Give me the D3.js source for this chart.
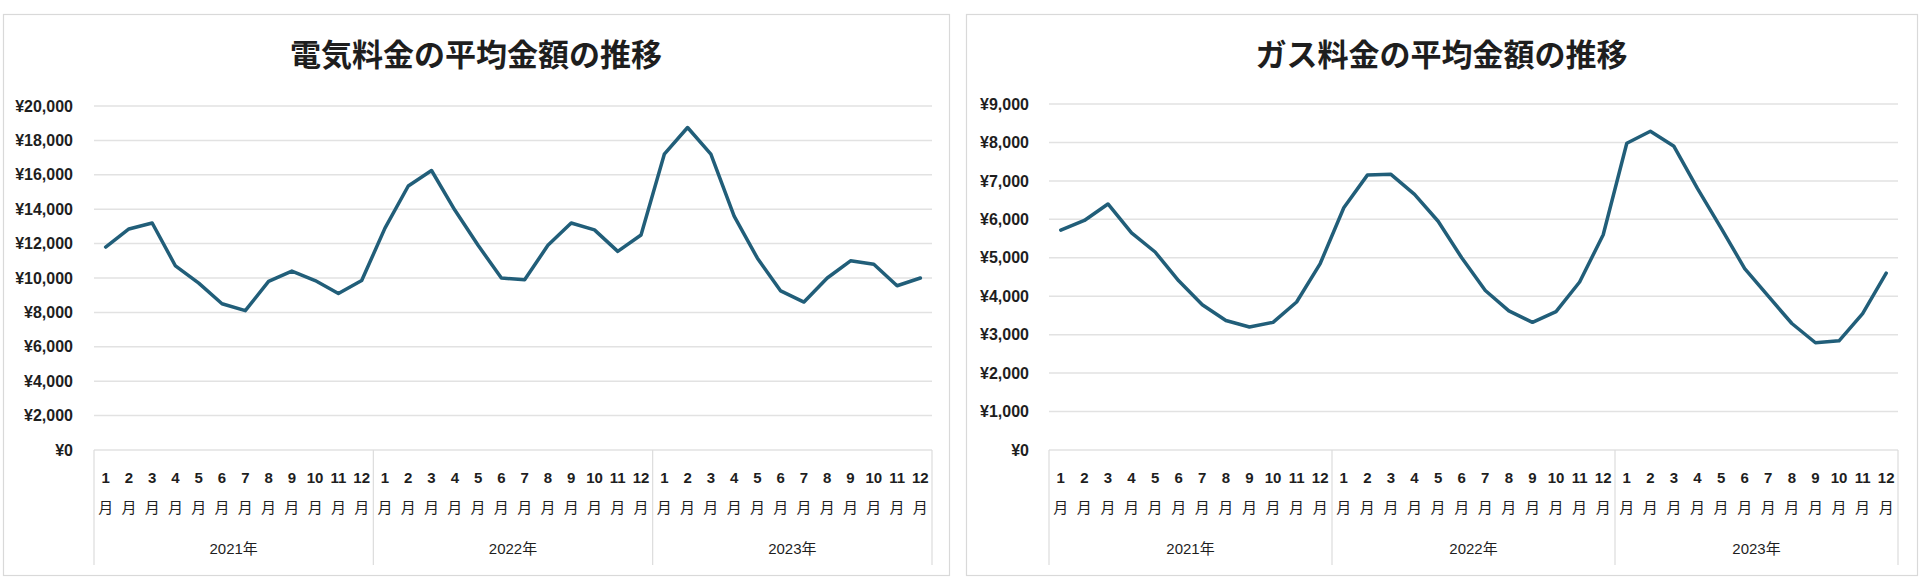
<html>
<meta charset="utf-8" />
<head>
<title>電気・ガス料金</title>
<style>
body { margin: 0; background: #fff; }
svg { display: block; }
svg text {
  font-family: "Liberation Sans", "Noto Sans CJK JP", sans-serif;
  fill: #1e1e1e;
}
.title { font-family: "Noto Sans CJK JP", sans-serif; font-weight: bold; font-size: 31px; text-anchor: middle; }
.ylab text { font-size: 16px; font-weight: bold; }
.mon { font-size: 15px; font-weight: bold; text-anchor: middle; }
.tsuki { font-family: "Noto Sans CJK JP", sans-serif; font-size: 15px; text-anchor: middle; }
.year { font-size: 15px; text-anchor: middle; }
</style>
<script src="https://d3js.org/d3.v7.min.js" charset="utf-8"></script>
</head>
<body>
<svg class="chart"></svg>
<script>
var years = ["2021年", "2022年", "2023年"];
var months = ["1", "2", "3", "4", "5", "6", "7", "8", "9", "10", "11", "12"];

// 電気料金 (円)
var electricity = [
  11800, 12850, 13200, 10700, 9700, 8500, 8100, 9800, 10400, 9850, 9100, 9850,
  12900, 15350, 16250, 13950, 11900, 10000, 9900, 11900, 13200, 12800, 11550, 12500,
  17200, 18750, 17200, 13600, 11150, 9250, 8600, 10000, 11000, 10800, 9550, 10000
];
// ガス料金 (円)
var gas = [
  5720, 5970, 6400, 5650, 5150, 4400, 3780, 3370, 3200, 3320, 3850, 4850,
  6300, 7150, 7170, 6650, 5950, 5000, 4150, 3620, 3320, 3600, 4370, 5600,
  7980, 8290, 7900, 6800, 5770, 4720, 4000, 3290, 2790, 2840, 3550, 4600
];
var elecTicks = [0, 2000, 4000, 6000, 8000, 10000, 12000, 14000, 16000, 18000, 20000];
var gasTicks = [0, 1000, 2000, 3000, 4000, 5000, 6000, 7000, 8000, 9000];

var chartWidth = 1920;
var chartHeight = 582;

var svg = d3.select(".chart")
  .attr("width", chartWidth)
  .attr("height", chartHeight);

var cats = [];
years.forEach(function(y) {
  months.forEach(function(m) { cats.push({ year: y, month: m, key: y + m }); });
});

function makeChart(cfg) {
  var g = svg.append("g");

  g.append("rect")
    .attr("x", cfg.card[0] + 0.5).attr("y", cfg.card[1] + 0.5)
    .attr("width", cfg.card[2] - cfg.card[0]).attr("height", cfg.card[3] - cfg.card[1])
    .attr("fill", "#fff").attr("stroke", "#d9d9d9").attr("stroke-width", 1.2);

  g.append("text").attr("class", "title")
    .attr("x", (cfg.card[0] + cfg.card[2]) / 2).attr("y", 66)
    .text(cfg.title);

  var x = d3.scaleBand()
    .domain(cats.map(function(d) { return d.key; }))
    .range([cfg.left, cfg.right]);

  var y = d3.scaleLinear()
    .domain([0, d3.max(cfg.ticks)])
    .range([cfg.bottom, cfg.top]);

  // gridlines
  g.append("g").selectAll("line")
    .data(cfg.ticks)
    .enter().append("line")
    .attr("x1", cfg.left).attr("x2", cfg.right)
    .attr("y1", function(d) { return y(d); })
    .attr("y2", function(d) { return y(d); })
    .attr("stroke", "#e2e2e2").attr("stroke-width", 1.5);

  // y axis labels
  var ya = g.append("g").attr("class", "ylab")
    .attr("transform", "translate(" + cfg.labelX + ",0)")
    .call(d3.axisLeft(y).tickValues(cfg.ticks).tickSize(0).tickPadding(0)
      .tickFormat(function(d) { return "¥" + d3.format(",")(d); }));
  ya.select(".domain").remove();
  ya.selectAll("text").attr("fill", "#1e1e1e");

  // category axis (months + years)
  var bounds = [0, 12, 24, 36];
  g.append("g").selectAll("line")
    .data(bounds)
    .enter().append("line")
    .attr("x1", function(d) { return cfg.left + d * x.bandwidth(); })
    .attr("x2", function(d) { return cfg.left + d * x.bandwidth(); })
    .attr("y1", cfg.bottom).attr("y2", cfg.bottom + 115)
    .attr("stroke", "#dcdcdc").attr("stroke-width", 1.2);

  g.append("g").selectAll("text")
    .data(cats)
    .enter().append("text").attr("class", "mon")
    .attr("x", function(d) { return x(d.key) + x.bandwidth() / 2; })
    .attr("y", cfg.bottom + 33)
    .text(function(d) { return d.month; });

  g.append("g").selectAll("text")
    .data(cats)
    .enter().append("text").attr("class", "tsuki")
    .attr("x", function(d) { return x(d.key) + x.bandwidth() / 2; })
    .attr("y", cfg.bottom + 63)
    .text("月");

  g.append("g").selectAll("text")
    .data(years)
    .enter().append("text").attr("class", "year")
    .attr("x", function(d, i) { return cfg.left + (i * 12 + 6) * x.bandwidth(); })
    .attr("y", cfg.bottom + 104)
    .text(function(d) { return d; });

  // line
  var line = d3.line()
    .x(function(d, i) { return x(cats[i].key) + x.bandwidth() / 2; })
    .y(function(d) { return y(d); });

  g.append("path")
    .datum(cfg.values)
    .attr("d", line)
    .attr("fill", "none")
    .attr("stroke", "#215e79")
    .attr("stroke-width", 3.5)
    .attr("stroke-linejoin", "round")
    .attr("stroke-linecap", "round");
}

makeChart({
  title: "電気料金の平均金額の推移",
  values: electricity,
  ticks: elecTicks,
  card: [3, 14, 949, 575],
  left: 94, right: 932, top: 106, bottom: 450, labelX: 73
});

makeChart({
  title: "ガス料金の平均金額の推移",
  values: gas,
  ticks: gasTicks,
  card: [966, 14, 1917, 575],
  left: 1049, right: 1898, top: 104, bottom: 450, labelX: 1029
});
</script>
</body>
</html>
